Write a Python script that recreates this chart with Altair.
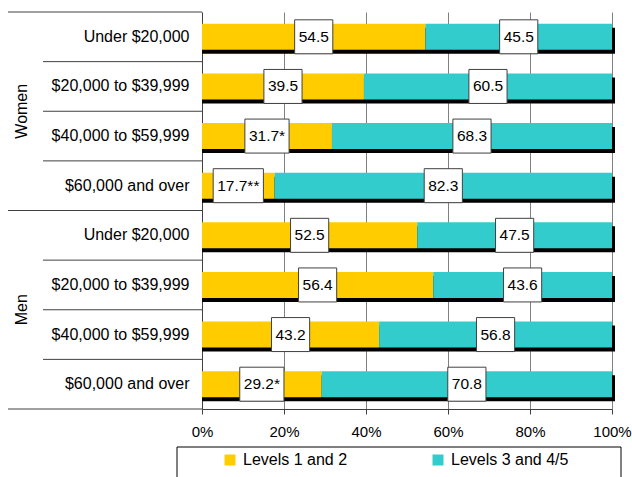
import altair as alt
import pandas as pd

# ---- data ----
groups = ["Women", "Men"]
incomes = ["Under $20,000", "$20,000 to $39,999", "$40,000 to $59,999", "$60,000 and over"]
levels = ["Levels 1 and 2", "Levels 3 and 4/5"]
women_low = [54.5, 39.5, 31.7, 17.7]
women_high = [45.5, 60.5, 68.3, 82.3]
men_low = [52.5, 56.4, 43.2, 29.2]
men_high = [47.5, 43.6, 56.8, 70.8]
women_low_flags = ["", "", "*", "**"]
men_low_flags = ["", "", "", "*"]
high_flags = ["", "", "", ""]
x_ticks = [0, 20, 40, 60, 80, 100]

rows = []
for g, lows, highs, lflags in [("Women", women_low, women_high, women_low_flags),
                               ("Men", men_low, men_high, men_low_flags)]:
    for i, inc in enumerate(incomes):
        key = g + "|" + inc
        rows.append(dict(key=key, group=g, income=inc, level=levels[0], order=0,
                         value=lows[i], flag=lflags[i], first=(i == 0)))
        rows.append(dict(key=key, group=g, income=inc, level=levels[1], order=1,
                         value=highs[i], flag=high_flags[i], first=(i == 0)))
df = pd.DataFrame(rows)
keys = [g + "|" + inc for g in groups for inc in incomes]

# ---- layout ----
W, H = 410, 397
STEP = H / len(keys)
FS = 15.5
FONT = "Liberation Sans"
DARK = "#404040"

xscale = alt.Scale(domain=[0, 100], nice=False, zero=True)
xaxis = alt.Axis(values=x_ticks, labelExpr="datum.value + '%'", grid=True,
                 gridColor="#808080", gridWidth=1, tickSize=5, tickColor=DARK,
                 domainColor=DARK, labelFontSize=15, labelColor="black",
                 labelPadding=10, labelFlush=False, labelOverlap=False, title=None)
yaxis = alt.Axis(labelExpr="split(datum.label, '|')[1]", ticks=False,
                 domainColor=DARK, labelFontSize=16, labelColor="black",
                 labelPadding=13, labelLimit=300, title=None)
yscale = alt.Scale(paddingInner=0.475, paddingOuter=0.2375)


def Y():
    return alt.Y("key:N", sort=keys, scale=yscale, axis=yaxis, title=None)


def X(field):
    return alt.X(field, scale=xscale, axis=xaxis, title=None)


base = alt.Chart(df)

shadow = base.mark_bar(color="black", xOffset=3, x2Offset=3, yOffset=4, y2Offset=4).encode(
    x=alt.X("sum(value):Q", stack=None, scale=xscale, axis=xaxis, title=None),
    y=Y(),
)

stacked = base.transform_stack(
    stack="value", groupby=["key"], as_=["x0", "x1"],
    sort=[alt.SortField("order", "ascending")],
).transform_calculate(
    mid="(datum.x0 + datum.x1) / 2",
    label="format(datum.value, '.1f') + datum.flag",
    halfw=f"((3*0.556 + 0.278 + length(datum.flag)*0.389)*{FS} + 8) / 2 / {W/100}",
).transform_calculate(
    bx0="datum.mid - datum.halfw",
    bx1="datum.mid + datum.halfw",
)

bars = stacked.mark_bar().encode(
    x=X("x0:Q"),
    x2="x1:Q",
    y=Y(),
    color=alt.Color(
        "level:N",
        scale=alt.Scale(domain=levels, range=["#FFCC00", "#33CCCC"]),
        legend=alt.Legend(orient="none", legendX=20, legendY=440, direction="horizontal",
                          columns=2, title=None, symbolType="square", symbolSize=121,
                          symbolStrokeWidth=0, labelFontSize=16, labelColor="black",
                          labelOffset=5, columnPadding=82, padding=0, labelLimit=300),
    ),
)

boxes = stacked.mark_bar(height=34, fill="white", stroke=DARK, strokeWidth=1).encode(
    x=X("bx0:Q"), x2="bx1:Q", y=Y()
)

labels = stacked.mark_text(fontSize=FS, color="black", baseline="middle", align="center").encode(
    x=X("mid:Q"), y=Y(), text="label:N"
)

sep_short = base.transform_filter("datum.order == 0 && !datum.first").mark_rule(
    color=DARK, strokeWidth=1, yOffset=-STEP / 2
).encode(y=Y(), x=alt.value(-159), x2=alt.value(0))

sep_long = base.transform_filter("datum.order == 0 && datum.first").mark_rule(
    color=DARK, strokeWidth=1, yOffset=-STEP / 2
).encode(y=Y(), x=alt.value(-194), x2=alt.value(0))

one = alt.Chart(pd.DataFrame({"a": [0]}))
bottom_line = one.mark_rule(color=DARK, strokeWidth=1).encode(
    y=alt.value(H), x=alt.value(-194), x2=alt.value(0)
)

group_labels = base.transform_filter(
    f"datum.order == 0 && datum.income == '{incomes[1]}'"
).mark_text(angle=270, fontSize=16, color="black", yOffset=STEP / 2,
            align="center", baseline="middle").encode(
    y=Y(), x=alt.value(-180), text="group:N"
)

legend_box = one.mark_rect(fill="white", fillOpacity=0, stroke="black", strokeWidth=1).encode(
    x=alt.value(-25), x2=alt.value(419), y=alt.value(435), y2=alt.value(480)
)

chart = alt.layer(
    legend_box, shadow, bars, boxes, labels, sep_short, sep_long, bottom_line, group_labels
).properties(
    width=W, height=H,
    autosize=alt.AutoSizeParams(type="none"),
    padding={"left": 202, "top": 12, "right": 20, "bottom": 68},
).configure(font=FONT).configure_view(stroke=None)

chart.save("out.html", embed_options={"renderer": "svg", "actions": False})
